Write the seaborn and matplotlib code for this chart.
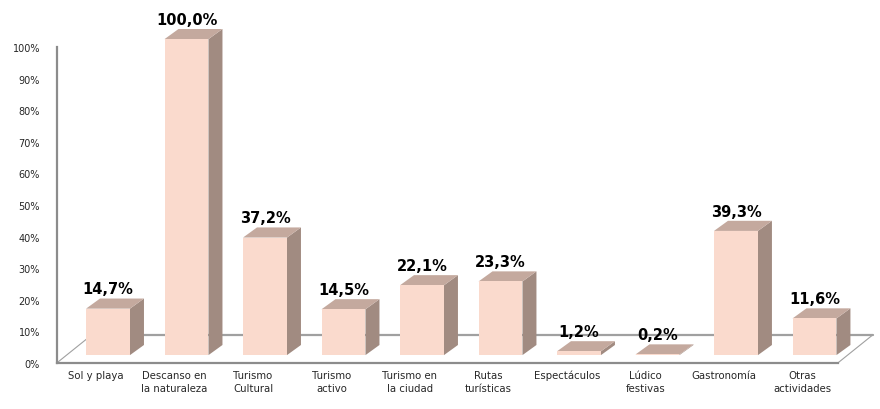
import matplotlib
matplotlib.use("Agg")
import matplotlib.pyplot as plt
import seaborn as sns
import pandas as pd
from matplotlib.patches import Polygon

# Data
categories = ["Sol y playa", "Descanso en\nla naturaleza", "Turismo\nCultural",
              "Turismo\nactivo", "Turismo en\nla ciudad", "Rutas\nturísticas",
              "Espectáculos", "Lúdico\nfestivas", "Gastronomía", "Otras\nactividades"]
values = [14.7, 100.0, 37.2, 14.5, 22.1, 23.3, 1.2, 0.2, 39.3, 11.6]
y_ticks = [0, 10, 20, 30, 40, 50, 60, 70, 80, 90, 100]
y_tick_labels = [f"{t}%" for t in y_ticks]

# colours of the 3D faces
FRONT = "#FADACD"
TOP = "#C4A99E"
SIDE = "#A18B81"
EDGE = "#8C8C8C"

# 3D offsets (category units, percent units)
BAR_W = 0.56
SHIFT_X, SHIFT_Y = 0.153, 2.5      # bar front plane behind the axis plane
DEPTH_X, DEPTH_Y = 0.178, 3.2      # bar depth
FLOOR_X, FLOOR_Y = 0.446, 8.9      # floor depth
FLOOR_RIGHT = 9.45

sns.set_style("white")
plt.rcParams['font.family'] = ['DejaVu Sans']

df = pd.DataFrame({'cat': categories, 'val': values})

fig = plt.figure(figsize=(8.8, 4.1), dpi=100)
ax = fig.add_axes([0.0645, 0.1122, 0.892, 0.7707])

sns.barplot(data=df, x='cat', y='val', color=FRONT, saturation=1,
            width=BAR_W, ax=ax, zorder=4, edgecolor='none')

ax.set_xlim(-0.5, 9.5)
ax.set_ylim(0, 100)

# floor
floor = Polygon([(-0.5, 0), (FLOOR_RIGHT, 0), (FLOOR_RIGHT + FLOOR_X, FLOOR_Y),
                 (-0.5 + FLOOR_X, FLOOR_Y)], closed=True, facecolor='white',
                edgecolor='none', zorder=1, clip_on=False)
ax.add_patch(floor)
ax.plot([-0.5 + FLOOR_X, FLOOR_RIGHT + FLOOR_X], [FLOOR_Y, FLOOR_Y],
        color="#A0A0A0", lw=1.6, zorder=2, clip_on=False)
ax.plot([-0.5, -0.5 + FLOOR_X], [0, FLOOR_Y], color="#A0A0A0", lw=0.8,
        zorder=2, clip_on=False)
ax.plot([FLOOR_RIGHT, FLOOR_RIGHT + FLOOR_X], [0, FLOOR_Y], color="#A0A0A0",
        lw=0.8, zorder=2, clip_on=False)

# turn flat bars into boxes
for p, v in zip(ax.patches, values):
    p.set_x(p.get_x() + SHIFT_X)
    p.set_y(p.get_y() + SHIFT_Y)
    p.set_clip_on(False)
    x0, y0 = p.get_x(), p.get_y()
    w, h = p.get_width(), p.get_height()
    side = Polygon([(x0 + w, y0), (x0 + w, y0 + h),
                    (x0 + w + DEPTH_X, y0 + h + DEPTH_Y),
                    (x0 + w + DEPTH_X, y0 + DEPTH_Y)],
                   closed=True, facecolor=SIDE, edgecolor='none', zorder=3,
                   clip_on=False)
    top = Polygon([(x0, y0 + h), (x0 + w, y0 + h),
                   (x0 + w + DEPTH_X, y0 + h + DEPTH_Y),
                   (x0 + DEPTH_X, y0 + h + DEPTH_Y)],
                  closed=True, facecolor=TOP, edgecolor='none', zorder=3,
                  clip_on=False)
    ax.add_patch(side)
    ax.add_patch(top)
    ax.text(x0 + w / 2, y0 + h + DEPTH_Y + 1.6, f"{v:.1f}%".replace(".", ","),
            ha='center', va='baseline', fontsize=10.5, fontweight='bold',
            color='black', zorder=6, clip_on=False)

# axes styling
sns.despine(ax=ax, top=True, right=True)
ax.spines['left'].set_color(EDGE)
ax.spines['left'].set_linewidth(1.6)
ax.spines['bottom'].set_color(EDGE)
ax.spines['bottom'].set_linewidth(1.6)
ax.spines['bottom'].set_bounds(-0.5, FLOOR_RIGHT)
ax.spines['left'].set_zorder(5)
ax.spines['bottom'].set_zorder(5)

ax.set_yticks(y_ticks)
ax.set_yticklabels(y_tick_labels)
ax.tick_params(axis='y', length=0, pad=12, labelsize=7)
ax.tick_params(axis='x', length=0, pad=5, labelsize=7.3)
for lbl in ax.get_xticklabels():
    lbl.set_linespacing(1.4)
    lbl.set_verticalalignment('top')

ax.set_xlabel('')
ax.set_ylabel('')
ax.grid(False)

fig.savefig("out.png", dpi=100)
